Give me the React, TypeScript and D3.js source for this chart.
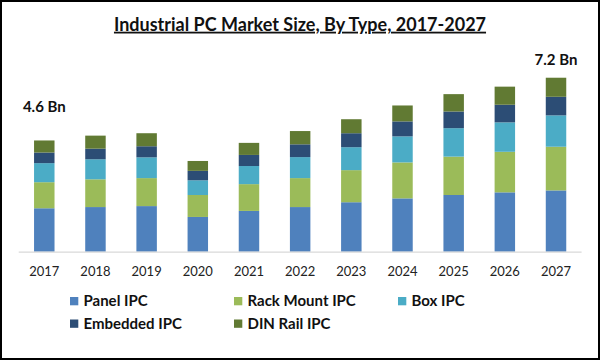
import React from "react";
import * as d3 from "d3";

const years = ["2017","2018","2019","2020","2021","2022","2023","2024","2025","2026","2027"];
const seriesNames = ["Panel IPC","Rack Mount IPC","Box IPC","Embedded IPC","DIN Rail IPC"];
const panel = [1.80,1.85,1.89,1.44,1.69,1.85,2.05,2.21,2.35,2.46,2.54];
const rack = [1.08,1.15,1.16,0.91,1.11,1.20,1.33,1.49,1.59,1.68,1.81];
const box = [0.79,0.83,0.86,0.61,0.75,0.87,0.95,1.08,1.18,1.22,1.30];
const embedded = [0.44,0.44,0.46,0.39,0.46,0.53,0.58,0.62,0.69,0.73,0.77];
const dinRail = [0.50,0.54,0.54,0.41,0.50,0.55,0.58,0.66,0.72,0.75,0.79];
const colors = ["#4f81bd","#9bbb59","#4bacc6","#2c4d75","#617a33"];
const annotations = [{ year: "2017", label: "4.6 Bn" }, { year: "2027", label: "7.2 Bn" }];

const W = 600, H = 360;
const FONT = "Lato, 'Open Sans', sans-serif";

export default function App() {
  const keys = ["panel","rack","box","embedded","din"];
  const rows = years.map((y, i) => ({
    year: y, panel: panel[i], rack: rack[i], box: box[i], embedded: embedded[i], din: dinRail[i],
  }));
  const stack = d3.stack<any>().keys(keys);
  const layers = stack(rows);

  const x = d3.scaleBand<string>().domain(years).range([18.7, 581.6]).paddingInner(0.6).paddingOuter(0.3);
  const baseY = 251.7;
  const y = d3.scaleLinear().domain([0, 8]).range([baseY, baseY - 8 * 24.13]);

  const legendPos = [
    { x: 70, y: 297 }, { x: 234, y: 297 }, { x: 398, y: 297 },
    { x: 70, y: 319.5 }, { x: 234, y: 319.5 },
  ];

  return (
    <svg width={W} height={H} style={{ position: "absolute", left: 0, top: 0, background: "#fff" }}>
      <rect x={1} y={1} width={W - 2} height={H - 2} fill="#fff" stroke="#000" strokeWidth={2} />
      <text x={300} y={30.7} textAnchor="middle" fontFamily={FONT} fontWeight="bold" fontSize={18}
        fill="#111" style={{ textDecoration: "underline" }}>
        Industrial PC Market Size, By Type, 2017-2027
      </text>
      {layers.map((layer, li) => (
        <g key={li} fill={colors[li]}>
          {layer.map((d, i) => (
            <rect key={i} x={x(years[i])} width={x.bandwidth()} y={y(d[1])} height={y(d[0]) - y(d[1])} />
          ))}
        </g>
      ))}
      <line x1={18.7} x2={581.6} y1={baseY + 0.5} y2={baseY + 0.5} stroke="#d9d9d9" strokeWidth={1.2} />
      {years.map((yr) => (
        <text key={yr} x={(x(yr) as number) + x.bandwidth() / 2} y={275.5} textAnchor="middle"
          fontFamily={FONT} fontSize={13} fill="#222">{yr}</text>
      ))}
      {annotations.map((a) => {
        const i = years.indexOf(a.year);
        const total = panel[i] + rack[i] + box[i] + embedded[i] + dinRail[i];
        const cx = (x(a.year) as number) + x.bandwidth() / 2;
        return (
          <text key={a.year} x={cx} y={y(total) - (a.year === "2017" ? 28.5 : 12.5)} textAnchor="middle"
            fontFamily={FONT} fontWeight="bold" fontSize={15} fill="#111">{a.label}</text>
        );
      })}
      {seriesNames.map((s, i) => (
        <g key={s} transform={`translate(${legendPos[i].x},${legendPos[i].y})`}>
          <rect x={0} y={0} width={8.3} height={8.3} fill={colors[i]} />
          <text x={13.5} y={9.3} fontFamily={FONT} fontWeight="bold" fontSize={15} fill="#111">{s}</text>
        </g>
      ))}
    </svg>
  );
}
